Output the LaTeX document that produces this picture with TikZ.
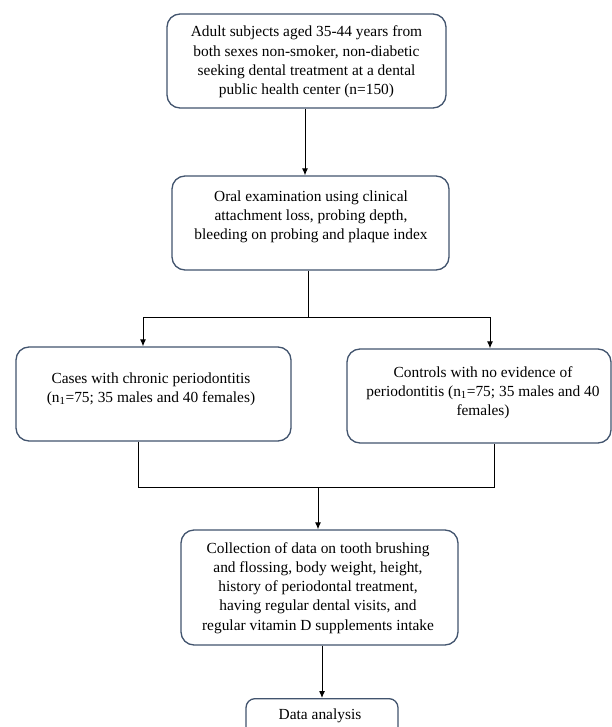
\documentclass[tikz,border=0pt]{standalone}
\usepackage{fontspec}
\setmainfont{Liberation Serif}
\usetikzlibrary{arrows.meta}
\definecolor{boxline}{RGB}{66,84,110}
\tikzset{
  flowbox/.style={draw=boxline, line width=1.3pt, rounded corners=13pt, inner sep=0pt},
  flowtext/.style={align=center, inner sep=0pt, font=\fontsize{15.4pt}{19.2pt}\selectfont, text=black},
  conn/.style={draw=black, line width=1pt},
  arr/.style={conn, -{Latex[length=7pt,width=6pt]}}
}
\begin{document}
\begin{tikzpicture}[x=1pt,y=-1pt]
\useasboundingbox[fill=white] (0,0) rectangle (612,727);
% boxes
\node[flowbox, minimum width=279pt, minimum height=94pt] (b1) at (306.5,61) {};
\node[flowbox, minimum width=277pt, minimum height=94pt] (b2) at (310.5,223) {};
\node[flowbox, minimum width=275pt, minimum height=94pt] (cl) at (153.5,394) {};
\node[flowbox, minimum width=264pt, minimum height=94pt] (cr) at (479,396) {};
\node[flowbox, minimum width=277pt, minimum height=115pt] (b4) at (319.5,587.5) {};
\node[flowbox, rounded corners=9pt, minimum width=152pt, minimum height=44pt, anchor=north] (b5) at (322,698) {};
% texts
\node[flowtext] (t1) at (306.5,62)
  {Adult subjects aged 35-44 years from\\both sexes non-smoker, non-diabetic\\seeking dental treatment at a dental\\public health center (n=150)};
\node[flowtext] (t2) at (311,217)
  {Oral examination using clinical\\attachment loss, probing depth,\\bleeding on probing and plaque index};
\node[flowtext] (t3) at (151,389)
  {Cases with chronic periodontitis\\(n\textsubscript{1}=75; 35 males and 40 females)};
\node[flowtext] (t4) at (483,393)
  {Controls with no evidence of\\periodontitis (n\textsubscript{1}=75; 35 males and 40\\females)};
\node[flowtext] (t5) at (318,588)
  {Collection of data on tooth brushing\\and flossing, body weight, height,\\history of periodontal treatment,\\having regular dental visits, and\\regular vitamin D supplements intake};
\node[flowtext] (t6) at (320,716) {Data analysis};
% connectors
\coordinate (jl) at (143,317);
\coordinate (jr) at (490,317);
\coordinate (kl) at (138,487);
\coordinate (kr) at (494,487);
\coordinate (km) at (318,487);
\coordinate (a1) at (305,0);
\coordinate (a2) at (308,317);
\coordinate (a3) at (322,0);
\draw[arr] (a1 |- b1.south) -- (a1 |- b2.north);
\draw[conn] (a2 |- b2.south) -- (a2);
\draw[conn] (jl) -- (jr);
\draw[arr] (jl) -- (jl |- cl.north);
\draw[arr] (jr) -- (jr |- cr.north);
\draw[conn] (kl |- cl.south) -- (kl) -- (kr) -- (kr |- cr.south);
\draw[arr] (km) -- (km |- b4.north);
\draw[arr] (a3 |- b4.south) -- (a3 |- b5.north);
\end{tikzpicture}
\end{document}
